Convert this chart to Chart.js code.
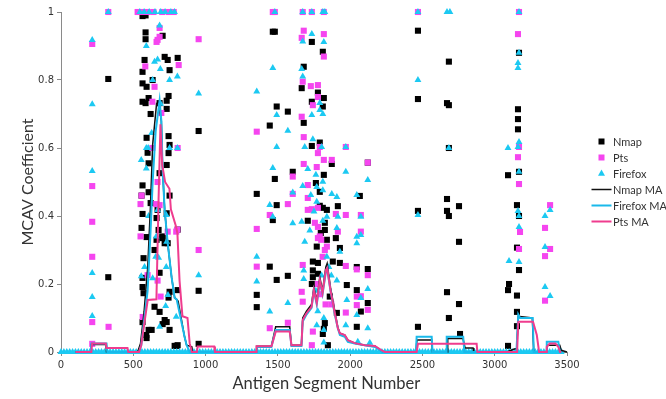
<!DOCTYPE html>
<html>
<head>
<meta charset="utf-8">
<script src="https://cdn.jsdelivr.net/npm/chart.js@4.4.1/dist/chart.umd.min.js"></script>
<style>
html,body{margin:0;padding:0;background:#fff;}
#wrap{width:666px;height:399px;}
</style>
</head>
<body>
<div id="wrap"><canvas id="c" width="666" height="399"></canvas></div>
<script>
// ---------- DATA ----------
const seriesNames = ['Nmap', 'Pts', 'Firefox', 'Nmap MA', 'Firefox MA', 'Pts MA'];
const xTickStep = 500;
const yTickStep = 0.2;

const nmapPoints = [
  [327,0.803],[327,0.22],[952,0.65],[952,0.18],[952,0.024],[786,0.018],
  [564,0.988],[585,0.99],[585,0.94],[703,0.93],[585,0.92],
  [717,0.868],[738,0.859],[807,0.865],[578,0.859],[564,0.824],[751,0.829],[634,0.8],[564,0.79],[592,0.78],
  [744,0.753],[731,0.739],[564,0.736],[606,0.747],[585,0.732],[682,0.732],[620,0.7],[731,0.715],
  [592,0.63],[744,0.635],[751,0.609],[599,0.586],[744,0.585],[606,0.555],[731,0.55],[682,0.526],
  [564,0.49],[606,0.47],[620,0.438],[564,0.406],[731,0.408],[661,0.394],[557,0.365],[675,0.359],[807,0.36],
  [592,0.338],[703,0.335],[661,0.33],[738,0.32],[557,0.46],[751,0.46],[668,0.418],[700,0.34],[717,0.32],
  [571,0.276],[647,0.3],[564,0.218],[564,0.191],[571,0.173],[807,0.182],[682,0.118],[744,0.16],[682,0.233],[751,0.177],
  [731,0.088],[703,0.082],[564,0.088],[627,0.065],[751,0.065],[592,0.041],[807,0.02],[647,0.133],[717,0.094],[606,0.065],[590,0.05],[800,0.018],
  [1465,0.942],[1479,0.942],[1735,0.912],[1811,0.883],[1679,0.839],[1665,0.776],[1777,0.763],[1818,0.747],[1735,0.736],
  [1811,0.722],[1492,0.722],[1569,0.707],[1679,0.674],[1444,0.666],
  [1790,0.616],[1735,0.606],[1873,0.553],[1603,0.53],[1818,0.521],[1479,0.509],[1763,0.497],[2122,0.557],
  [1790,0.471],[1354,0.465],[2067,0.459],[1492,0.432],[1811,0.424],[1839,0.418],[1915,0.429],[1465,0.388],
  [1707,0.386],[1825,0.359],[1901,0.335],[1769,0.31],[1929,0.306],[1790,0.43],[1825,0.38],[1797,0.35],[1839,0.33],
  [1444,0.251],[1777,0.262],[1742,0.266],[1880,0.266],[1929,0.262],[2046,0.25],[2122,0.244],[1742,0.22],[1569,0.224],
  [1492,0.212],[1977,0.197],[1354,0.168],[2046,0.182],[2122,0.144],[1354,0.132],[2074,0.119],[1818,0.068],[2046,0.074],
  [1811,0.053],[1742,0.24],[1777,0.23],[1735,0.2],[1859,0.163],[1908,0.115],[1825,0.085],[1846,0.02],
  [2469,0.945],[2683,0.854],[2469,0.744],[2670,0.732],[2683,0.726],[3161,0.714],[3161,0.685],[3161,0.655],[3168,0.88],
  [2683,0.6],[3092,0.52],[3168,0.53],[2670,0.45],[2753,0.429],[3154,0.432],[2469,0.415],[2670,0.415],[2683,0.4],
  [3168,0.4],[2753,0.324],[3154,0.307],[3168,0.241],[3099,0.2],[3092,0.182],[3154,0.166],[2670,0.176],[2753,0.141],
  [2683,0.1],[2469,0.074],[3154,0.118],[3154,0.076],[3092,0.018],[2760,0.053]
];

const ptsPoints = [
  [216,0.906],[216,0.488],[216,0.383],[216,0.28],[216,0.088],[216,0.024],[327,1],[329,0.074],[952,0.92],[952,0.3],
  [530,1],[565,1],[600,1],[640,1],[700,1],[745,1],[780,1],
  [682,0.953],[668,0.918],[661,0.912],[682,0.927],[814,0.844],[583,0.84],[647,0.78],[632,0.736],[694,0.703],
  [807,0.6],[632,0.6],[557,0.46],[668,0.5],[550,0.435],[550,0.34],[599,0.226],[668,0.21],[659,0.435],[682,0.432],
  [738,0.354],[797,0.354],[689,0.163],[565,0.103],[805,0.36],
  [1479,1],[1465,1],[1672,1],[1735,1],[1818,1],
  [1679,0.945],[1818,0.935],[1665,0.924],[1818,0.869],[1672,0.795],[1728,0.782],[1777,0.785],[1777,0.75],[1742,0.726],
  [1665,0.692],[1354,0.648],[1679,0.632],[1790,0.603],[1970,0.603],[1777,0.585],[1818,0.565],[1873,0.565],[1679,0.553],
  [1769,0.544],[2122,0.557],[1603,0.516],[1707,0.491],[1603,0.465],[1707,0.453],[1569,0.435],[1777,0.424],[1707,0.418],
  [1444,0.403],[1901,0.406],[1970,0.403],[2074,0.403],[1354,0.362],[1777,0.368],[1915,0.354],[2074,0.354],[1777,0.335],
  [1839,0.31],[1735,0.42],[1756,0.38],[1790,0.34],[1800,0.33],[1825,0.3],[1810,0.28],[1777,0.2],[1790,0.17],[1830,0.14],[1870,0.14],
  [1354,0.251],[1672,0.256],[1970,0.253],[2046,0.243],[2122,0.226],[1665,0.177],[2046,0.163],[2074,0.164],[1672,0.148],
  [2046,0.138],[2122,0.124],[1970,0.116],[1569,0.086],[1444,0.07],[1742,0.06],[1735,0.02],
  [2469,1],[3168,1],[3161,0.935],[3168,0.603],[3161,0.573],[3168,0.494],[3383,0.432],[3175,0.353],[3348,0.365],
  [3168,0.303],[3383,0.303],[3348,0.282],[3348,0.151]
];

const firefoxPoints = [
  [216,0.918],[216,0.729],[216,0.532],[216,0.232],[216,0.162],[216,0.106],[327,1],[952,0.76],[952,0.226],
  [545,1],[575,1],[610,1],[650,1],[690,1],[720,1],[760,1],[785,1],
  [682,0.96],[590,0.9],[647,0.854],[668,0.86],[687,0.832],[634,0.8],[751,0.8],[805,0.81],[689,0.73],[627,0.644],
  [590,0.6],[603,0.6],[751,0.6],[805,0.6],[555,0.565],[590,0.54],[668,0.418],[606,0.4],[728,0.403],[659,0.34],
  [731,0.324],[655,0.28],[675,0.277],[578,0.25],[634,0.217],[555,0.223],[728,0.25],[740,0.168],[724,0.135],[682,0.074],[797,0.104],
  [1479,1],[1672,1],[1735,1],[1811,1],[1825,1],
  [1735,0.935],[1672,0.913],[1818,0.912],[1465,0.835],[1665,0.832],[1672,0.81],[1354,0.766],[1790,0.732],[1790,0.712],
  [1492,0.697],[1735,0.697],[1811,0.7],[1569,0.651],[1742,0.626],[1803,0.603],[1686,0.603],[1492,0.603],[1970,0.603],
  [1465,0.541],[1707,0.538],[1970,0.53],[1763,0.521],[2122,0.506],[1811,0.501],[1672,0.488],[1769,0.485],
  [1811,0.476],[1603,0.469],[1873,0.465],[2046,0.462],[1908,0.456],[1728,0.462],[1769,0.442],[1444,0.432],[1750,0.413],
  [1465,0.398],[1915,0.398],[2074,0.398],[1839,0.398],[1665,0.383],[1603,0.379],[1811,0.386],[1721,0.357],[1908,0.365],
  [2046,0.339],[2074,0.344],[1686,0.324],[2046,0.32],[1354,0.28],[1929,0.295],[1839,0.28],
  [1354,0.207],[1679,0.24],[1679,0.215],[1908,0.21],[2122,0.185],[2074,0.159],[1977,0.153],[1569,0.144],[1444,0.119],
  [2046,0.109],[1818,0.1],[1769,0.079],[1970,0.079],[2122,0.07],[1818,0.065],[1818,0.028],[2053,0.03],[2136,0.027],
  [1853,0.25],[1870,0.225],[1803,0.225],[1763,0.18],[1776,0.12],
  [2469,1],[2670,1],[2690,1],[3168,1],[3168,0.88],[3161,0.85],[3161,0.835],[2469,0.8],[3168,0.618],[3161,0.603],
  [3092,0.6],[2683,0.6],[3168,0.53],[3383,0.418],[3348,0.4],[2469,0.403],[3161,0.415],[3168,0.4],[3168,0.368],
  [3348,0.309],[3099,0.268],[3168,0.265],[3348,0.191],[3383,0.165]
];

// Firefox values that are zero (dense band along the x axis)
const firefoxZeroX = [0,20,40,60,80,100,120,140,160,180,200,220,240,260,280,300,320,340,360,380,400,420,440,460,480,
  500,520,540,560,580,600,620,640,660,680,700,720,740,760,780,800,820,840,860,880,900,920,940,960,980,
  1000,1020,1040,1060,1080,1100,1120,1140,1160,1180,1200,1220,1240,1260,1280,1300,1320,1340,1360,1380,
  1400,1420,1440,1460,1480,1500,1520,1540,1560,1580,1600,1620,1640,1660,1680,1700,1720,1740,1760,1780,
  1800,1820,1840,1860,1880,1900,1920,1940,1960,1980,2000,2020,2040,2060,2080,2100,2120,2140,2160,2180,
  2200,2220,2240,2260,2280,2300,2320,2340,2360,2380,2400,2420,2440,2460,2480,2500,2520,2540,2560,2580,
  2600,2620,2640,2660,2680,2700,2720,2740,2760,2780,2800,2820,2840,2860,2880,2900,2920,2940,2960,2980,
  3000,3020,3040,3060,3080,3100,3120,3140,3160,3180,3200,3220,3240,3260,3280,3300,3320,3340,3360,3380,
  3400,3420,3440,3460];

const nmapMA = [
  [100,0],[205,0],[210,0.022],[310,0.022],[315,0],[530,0],[550,0.025],[575,0.12],[600,0.25],[618,0.42],[634,0.61],
  [661,0.73],[680,0.72],[694,0.68],[703,0.535],[717,0.418],[738,0.32],[765,0.22],[786,0.16],[810,0.15],[855,0.044],
  [869,0.02],[905,0.015],[910,0],
  [1350,0],[1355,0.017],[1455,0.017],[1485,0.074],[1582,0.074],[1594,0.02],[1663,0.02],[1672,0.1],[1698,0.12],
  [1733,0.14],[1749,0.19],[1769,0.15],[1790,0.22],[1809,0.18],[1832,0.25],[1841,0.26],[1864,0.19],[1894,0.12],
  [1915,0.072],[1929,0.055],[1963,0.05],[1984,0.035],[2032,0.026],[2102,0.02],[2171,0.018],[2226,0],
  [2455,0],[2462,0.035],[2564,0.035],[2570,0],[2670,0],[2675,0.04],[2780,0.04],[2795,0.012],[2850,0.012],[2855,0],
  [3085,0],[3130,0.008],[3152,0.01],[3163,0.105],[3260,0.1],[3270,0],[3360,0],[3365,0.02],[3450,0.02],[3460,0.005],[3500,0]
];

const firefoxMA = [
  [100,0],[205,0],[210,0.025],[315,0.025],[320,0],[540,0],[555,0.02],[599,0.18],[620,0.36],[634,0.5],[655,0.65],
  [682,0.74],[694,0.68],[703,0.535],[717,0.418],[738,0.32],[765,0.22],[786,0.159],[800,0.155],[855,0.044],[869,0.02],[890,0],
  [1350,0],[1355,0.015],[1455,0.015],[1485,0.065],[1582,0.065],[1594,0.018],[1663,0.018],[1672,0.09],[1698,0.11],
  [1733,0.13],[1749,0.18],[1769,0.14],[1790,0.205],[1809,0.17],[1832,0.235],[1841,0.245],[1864,0.18],[1894,0.11],
  [1915,0.07],[1929,0.05],[1963,0.045],[1984,0.03],[2032,0.025],[2102,0.02],[2171,0.015],[2226,0],
  [2455,0],[2460,0.045],[2564,0.045],[2570,0],[2665,0],[2668,0.045],[2782,0.045],[2790,0],
  [3150,0],[3163,0.11],[3175,0.1],[3263,0.1],[3270,0],[3355,0],[3360,0.03],[3440,0.03],[3450,0],[3460,0]
];

const ptsMA = [
  [100,0],[210,0],[215,0.025],[310,0.025],[315,0.012],[460,0.012],[465,0],[540,0],[555,0.02],[575,0.08],[600,0.153],
  [660,0.155],[675,0.45],[688,0.67],[700,0.55],[720,0.5],[750,0.48],[760,0.42],[795,0.37],[805,0.35],[820,0.21],
  [840,0.105],[875,0.1],[890,0.026],[905,0],[940,0],[945,0.016],[1060,0.016],[1065,0],
  [1350,0],[1352,0.017],[1456,0.017],[1485,0.06],[1582,0.06],[1594,0.02],[1663,0.02],[1672,0.094],[1698,0.114],
  [1733,0.133],[1749,0.182],[1769,0.144],[1790,0.212],[1809,0.173],[1832,0.241],[1841,0.247],[1864,0.182],[1894,0.114],
  [1915,0.07],[1929,0.055],[1963,0.05],[1984,0.035],[2032,0.026],[2102,0.02],[2171,0.018],[2226,0.003],[2240,0],
  [2460,0],[2469,0.024],[2875,0.024],[2880,0],
  [3155,0],[3163,0.089],[3265,0.089],[3291,0.05],[3307,0],[3355,0],[3360,0.015],[3380,0.025],[3420,0.025],[3440,0.015],[3452,0],[3460,0]
];

// ---------- CHART ----------
const C_NMAP = '#000000', C_PTS = '#f545ef', C_FF = '#1cc9f2';
const C_NMAP_MA = '#111111', C_FF_MA = '#1ab9ea', C_PTS_MA = '#ef3c8e';

const firefoxAll = firefoxPoints.concat(firefoxZeroX.map(x => [x, 0]));

const legendPlugin = {
  id: 'sideLegend',
  afterDraw(chart) {
    const ctx = chart.ctx;
    const x0 = 601.5, y0 = 141.5, dy = 16;
    ctx.save();
    ctx.font = '11px Lato';
    ctx.textBaseline = 'middle';
    ctx.textAlign = 'left';
    chart.data.datasets.forEach((ds, i) => {
      const y = y0 + i * dy;
      if (ds.showLine) {
        ctx.strokeStyle = ds.borderColor;
        ctx.lineWidth = ds.borderWidth;
        ctx.beginPath(); ctx.moveTo(x0 - 10, y); ctx.lineTo(x0 + 10, y); ctx.stroke();
      } else if (ds.pointStyle === 'triangle') {
        ctx.fillStyle = ds.backgroundColor;
        ctx.beginPath(); ctx.moveTo(x0, y - 4); ctx.lineTo(x0 + 3.5, y + 2.2); ctx.lineTo(x0 - 3.5, y + 2.2); ctx.closePath(); ctx.fill();
      } else {
        ctx.fillStyle = ds.backgroundColor;
        ctx.fillRect(x0 - 3, y - 3, 6, 6);
      }
      ctx.fillStyle = '#333';
      ctx.fillText(ds.label, 613, y + 0.5);
    });
    ctx.restore();
  }
};

const plainTick = v => String(Math.round(v * 1000) / 1000);

new Chart(document.getElementById('c'), {
  type: 'scatter',
  data: {
    datasets: [
      { label: seriesNames[0], data: nmapPoints, pointStyle: 'rect', pointRadius: 4.3, borderWidth: 0,
        backgroundColor: C_NMAP, borderColor: C_NMAP, order: 6, clip: false },
      { label: seriesNames[1], data: ptsPoints, pointStyle: 'rect', pointRadius: 4.3, borderWidth: 0,
        backgroundColor: C_PTS, borderColor: C_PTS, order: 5, clip: false },
      { label: seriesNames[2], data: firefoxAll, pointStyle: 'triangle', pointRadius: 4, borderWidth: 0,
        backgroundColor: C_FF, borderColor: C_FF, order: 4, clip: false },
      { label: seriesNames[3], data: nmapMA, showLine: true, pointRadius: 0, borderWidth: 1.5,
        borderColor: C_NMAP_MA, backgroundColor: C_NMAP_MA, order: 3, clip: false },
      { label: seriesNames[4], data: firefoxMA, showLine: true, pointRadius: 0, borderWidth: 2,
        borderColor: C_FF_MA, backgroundColor: C_FF_MA, order: 2, clip: false },
      { label: seriesNames[5], data: ptsMA, showLine: true, pointRadius: 0, borderWidth: 2,
        borderColor: C_PTS_MA, backgroundColor: C_PTS_MA, order: 1, clip: false }
    ]
  },
  options: {
    responsive: false,
    animation: false,
    events: [],
    layout: { padding: { left: 0, right: 99, top: 12, bottom: 0 } },
    plugins: { legend: { display: false }, tooltip: { enabled: false } },
    scales: {
      x: {
        type: 'linear', min: 0, max: 3500,
        afterFit(s) { s.height = 47; },
        ticks: { stepSize: xTickStep, color: '#333', font: { family: 'DejaVu Sans', size: 10 }, padding: 3,
                 callback: plainTick },
        grid: { display: true, drawOnChartArea: false, drawTicks: true, tickLength: 4, color: '#8a8a8a' },
        border: { display: true, color: '#8a8a8a', width: 1 },
        title: { display: true, text: '\u00a0\u00a0\u00a0\u00a0\u00a0\u00a0Antigen Segment Number', color: '#333',
                 font: { family: 'Lato', size: 16.5 }, padding: { top: 0, bottom: 5 } }
      },
      y: {
        type: 'linear', min: 0, max: 1,
        afterFit(s) { s.width = 61; },
        ticks: { stepSize: yTickStep, color: '#333', font: { family: 'DejaVu Sans', size: 10 }, padding: 3,
                 callback: plainTick },
        grid: { display: true, drawOnChartArea: false, drawTicks: true, tickLength: 4, color: '#8a8a8a' },
        border: { display: true, color: '#8a8a8a', width: 1 },
        title: { display: true, text: 'MCAV Coefficient', color: '#333',
                 font: { family: 'Lato', size: 16 }, padding: { top: 18, bottom: 0 } }
      }
    }
  },
  plugins: [legendPlugin]
});
</script>
</body>
</html>
